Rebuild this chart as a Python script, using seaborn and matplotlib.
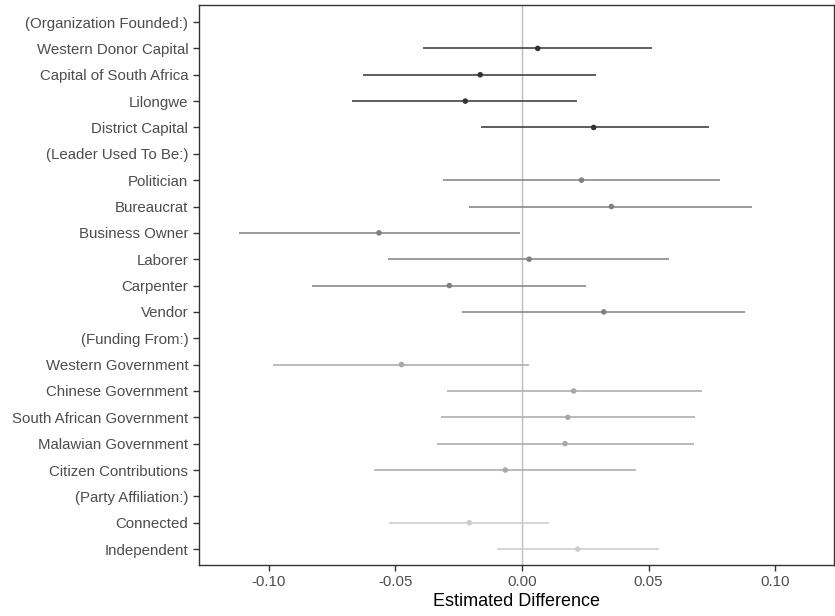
import pandas as pd
import matplotlib
matplotlib.use("Agg")
import matplotlib.pyplot as plt
import seaborn as sns
import numpy as np

# row labels, top to bottom (headers have no estimate)
labels = ["(Organization Founded:)", "Western Donor Capital", "Capital of South Africa",
          "Lilongwe", "District Capital",
          "(Leader Used To Be:)", "Politician", "Bureaucrat", "Business Owner",
          "Laborer", "Carpenter", "Vendor",
          "(Funding From:)", "Western Government", "Chinese Government",
          "South African Government", "Malawian Government", "Citizen Contributions",
          "(Party Affiliation:)", "Connected", "Independent"]

terms = ["Western Donor Capital", "Capital of South Africa", "Lilongwe", "District Capital",
         "Politician", "Bureaucrat", "Business Owner", "Laborer", "Carpenter", "Vendor",
         "Western Government", "Chinese Government", "South African Government",
         "Malawian Government", "Citizen Contributions",
         "Connected", "Independent"]
groups = ["Organization"] * 4 + ["Leader"] * 6 + ["Funding"] * 5 + ["Party"] * 2
estimate = [0.0062, -0.0165, -0.0224, 0.0283,
            0.0235, 0.0353, -0.0565, 0.0028, -0.0287, 0.0323,
            -0.0476, 0.0204, 0.0181, 0.0170, -0.0066,
            -0.0208, 0.0220]
lower = [-0.0391, -0.0627, -0.0671, -0.0163,
         -0.0311, -0.0208, -0.1116, -0.0530, -0.0830, -0.0238,
         -0.0983, -0.0298, -0.0321, -0.0337, -0.0584,
         -0.0524, -0.0099]
upper = [0.0515, 0.0294, 0.0219, 0.0738,
         0.0783, 0.0910, -0.0008, 0.0580, 0.0254, 0.0880,
         0.0026, 0.0709, 0.0685, 0.0680, 0.0452,
         0.0105, 0.0540]

palette = {"Organization": "#333333", "Leader": "#808080",
           "Funding": "#a8a8a8", "Party": "#cccccc"}

df = pd.DataFrame({"term": terms, "group": groups, "estimate": estimate,
                   "lower": lower, "upper": upper})
df["pos"] = [labels.index(t) for t in df["term"]]

plt.rcParams["font.family"] = ["Liberation Sans", "DejaVu Sans"]
fig = plt.figure(figsize=(8.35, 6.16), dpi=100)
ax = fig.add_axes([0.238, 0.083, 0.761, 0.909])

ax.axvline(0, color="#bebebe", lw=1, zorder=0)
for g, sub in df.groupby("group"):
    ax.hlines(sub["pos"], sub["lower"], sub["upper"], color=palette[g], lw=1.1, zorder=1)
sns.scatterplot(data=df, x="estimate", y="pos", hue="group", palette=palette,
                s=16, linewidth=0, legend=False, ax=ax, zorder=2)

ax.set_yticks(range(len(labels)))
ax.set_yticklabels(labels)
ax.set_ylim(20.6, -0.65)
ax.set_xlim(-0.1277, 0.1233)
ax.set_xticks([-0.10, -0.05, 0.0, 0.05, 0.10])
ax.set_xticklabels(["-0.10", "-0.05", "0.00", "0.05", "0.10"])
ax.set_xlabel("Estimated Difference", fontsize=13, color="black", labelpad=3)
ax.set_ylabel("")
ax.tick_params(axis="both", labelsize=10.8, colors="#333333", labelcolor="#4d4d4d",
               length=4, width=1)
for sp in ax.spines.values():
    sp.set_color("#333333")
    sp.set_linewidth(1)

fig.savefig("out.png", dpi=100)
